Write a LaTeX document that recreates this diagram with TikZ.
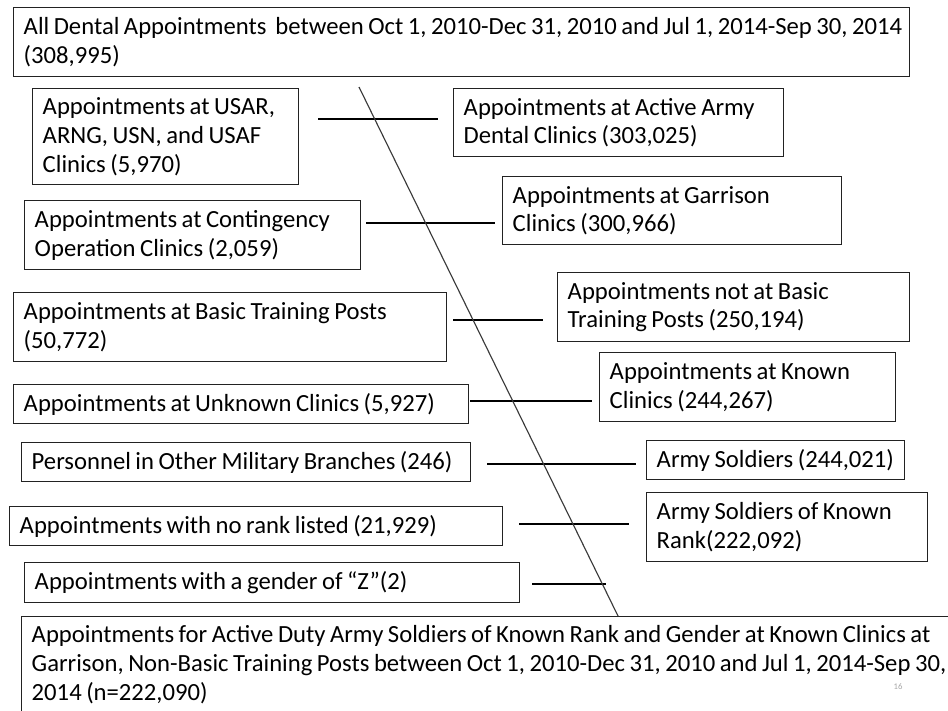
\documentclass[tikz,border=0pt]{standalone}
\usepackage{fontspec}
\setmainfont{Carlito}
\definecolor{edgec}{HTML}{222222}
\definecolor{diagc}{HTML}{3A3A3A}
\definecolor{pagec}{HTML}{A8A8A8}
\tikzset{
  box/.style={draw=edgec, line width=1.1pt, anchor=north west, inner xsep=7.5pt, inner ysep=0pt,
    align=left, font=\fontsize{18.5}{21.5}\selectfont, text=black},
  conn/.style={draw=black, line width=1.1pt},
  diagline/.style={draw=diagc, line width=0.85pt},
  pagenum/.style={font=\fontsize{6.5}{7}\selectfont, text=pagec, inner sep=0pt}
}
\newcommand\flowbox[6]{%
  \pgfmathsetmacro\bw{(#4-#2)*0.75}%
  \pgfmathsetmacro\bh{(#5-#3)*0.75}%
  \pgfmathsetmacro\tw{(#4-#2)*0.75-15}%
  \node[box, minimum width=\bw pt, minimum height=\bh pt, text width=\tw pt] (#1) at (#2,#3) {\spaceskip=3.4pt plus 1pt\relax\xspaceskip=3.4pt plus 1pt\relax #6};}
\begin{document}
\begin{tikzpicture}[x=0.75pt,y=-0.75pt]
\useasboundingbox (0,0) rectangle (948,710);
\fill[white] (0,0) rectangle (948,710);
\flowbox{top}{13}{7}{909}{76}{\mbox{All Dental Appointments\ \ between Oct 1, 2010-Dec 31, 2010 and Jul 1, 2014-Sep 30, 2014}\\(308,995)}
\flowbox{usar}{32}{88}{298}{184}{Appointments at USAR,\\ARNG, USN, and USAF\\Clinics (5,970)}
\flowbox{active}{453}{88}{783}{156}{Appointments at Active Army\\Dental Clinics (303,025)}
\flowbox{garrison}{502}{176}{841}{244}{Appointments at Garrison\\Clinics (300,966)}
\flowbox{contingency}{24}{200}{360}{269}{Appointments at Contingency\\Operation Clinics (2,059)}
\flowbox{notbasic}{557}{272}{909}{341}{Appointments not at Basic\\Training Posts (250,194)}
\flowbox{basic}{13}{292}{446}{361}{Appointments at Basic Training Posts\\(50,772)}
\flowbox{known}{599}{352}{895}{421}{Appointments at Known\\Clinics (244,267)}
\flowbox{unknown}{13}{384}{468}{423}{\mbox{Appointments at Unknown Clinics (5,927)}}
\flowbox{soldiers}{646}{440}{904}{479}{\mbox{Army Soldiers (244,021)}}
\flowbox{personnel}{21}{442}{470}{481}{\mbox{Personnel in Other Military Branches (246)}}
\flowbox{knownrank}{646}{492}{927}{561}{Army Soldiers of Known\\Rank(222,092)}
\flowbox{norank}{9}{506}{502}{545}{\mbox{Appointments with no rank listed (21,929)}}
\flowbox{gender}{24}{562}{519}{602}{\mbox{Appointments with a gender of “Z”(2)}}
\flowbox{final}{21}{616}{962}{712}{\mbox{Appointments for Active Duty Army Soldiers of Known Rank and Gender at Known Clinics at}\\\mbox{Garrison, Non-Basic Training Posts between Oct 1, 2010-Dec 31, 2010 and Jul 1, 2014-Sep 30,}\\2014 (n=222,090)}
\node[pagenum] (pg) at (898,687) {16};
% connectors
\coordinate (a1) at (318,119); \coordinate (b1) at (438,119);
\coordinate (a2) at (366,223); \coordinate (b2) at (495,223);
\coordinate (a3) at (453,320); \coordinate (b3) at (543,320);
\coordinate (a4) at (470,401); \coordinate (b4) at (592,401);
\coordinate (a5) at (487,464); \coordinate (b5) at (636,464);
\coordinate (a6) at (519,524); \coordinate (b6) at (629,524);
\coordinate (a7) at (532,584); \coordinate (b7) at (606,584);
\foreach \i in {1,...,7} {\draw[conn] (a\i) -- (b\i);}
\coordinate (dtop) at (359,87);
\coordinate (dend) at (618,616);
\draw[diagline] (dtop) -- (dend);
\end{tikzpicture}
\end{document}
